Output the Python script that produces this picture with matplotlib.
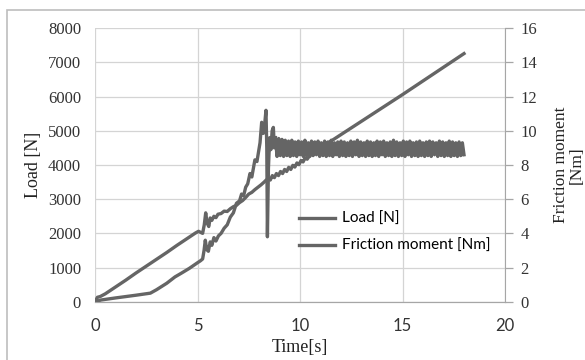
import matplotlib
matplotlib.use("Agg")
import matplotlib.pyplot as plt
from matplotlib.patches import Rectangle

# ---------------------------------------------------------------------
# Data
# ---------------------------------------------------------------------
load_t = [0, 0.12, 0.25, 0.5, 1.0, 1.5, 2.0, 2.5, 3.0, 3.5, 4.0, 4.5, 4.9,
          5.05, 5.15, 5.25, 5.33, 5.40, 5.47, 5.55, 5.62, 5.70, 5.80, 5.90,
          6.0, 6.15, 6.3, 6.45, 6.6, 6.75, 6.9, 7.05, 7.2, 7.35, 7.5, 7.65,
          7.8, 7.95, 8.1, 8.25, 8.35, 8.45, 8.55, 8.65, 8.75, 8.85, 8.95,
          9.05, 9.15, 9.25, 9.35, 9.45, 9.55, 9.65, 9.75, 9.85, 9.95, 10.05,
          10.15, 10.25, 10.35, 10.5, 10.7, 11.0, 15.0, 18.0]
load_n = [0, 130, 150, 230, 430, 630, 840, 1040, 1240, 1440, 1650, 1850, 2010,
          2060, 2030, 2000, 2250, 2600, 2300, 2200, 2450, 2380, 2500, 2460,
          2560, 2580, 2650, 2640, 2720, 2780, 2820, 2900, 2960, 3050, 3150, 3200,
          3280, 3350, 3420, 3500, 3560, 3600, 3560, 3690, 3630, 3750, 3690,
          3810, 3750, 3870, 3810, 3930, 3870, 3990, 3940, 4060, 4010, 4130,
          4090, 4210, 4170, 4300, 4380, 4500, 6060, 7260]

# friction moment, start-up and breakaway part
fric_t = [0, 0.3, 1.0, 2.0, 2.7, 3.0, 3.5, 3.9, 4.2, 4.6, 5.0, 5.15, 5.25,
          5.32, 5.38, 5.45, 5.53, 5.62, 5.70, 5.80, 5.90, 6.02, 6.15, 6.3,
          6.45, 6.6, 6.75, 6.9, 7.05, 7.15, 7.25, 7.35, 7.45, 7.56, 7.65, 7.8,
          7.9, 8.05, 8.13, 8.21, 8.27, 8.34, 8.38, 8.41, 8.46, 8.52, 8.58,
          8.64, 8.70, 8.75]
fric_nm = [0, 0.1, 0.22, 0.38, 0.5, 0.7, 1.08, 1.45, 1.66, 1.95, 2.28, 2.4, 2.5,
           3.0, 3.6, 3.05, 2.95, 3.5, 3.3, 3.75, 3.55, 3.85, 4.0, 4.3,
           4.5, 4.95, 5.2, 5.76, 5.9, 6.3, 6.2, 6.7, 6.9, 7.5, 7.3, 8.3,
           8.2, 9.3, 10.5, 9.85, 10.3, 11.2, 9.0, 3.8, 7.8, 9.6, 8.9,
           10.0, 10.2, 9.0]

# friction moment, steady oscillating part
osc_t = [8.80, 8.88, 8.96, 9.04, 9.12, 9.20, 9.28, 9.36, 9.44, 9.52,
         9.60, 9.68, 9.76, 9.84, 9.92, 10.00, 10.08, 10.16, 10.24, 10.32,
         10.40, 10.48, 10.56, 10.64, 10.72, 10.80, 10.88, 10.96, 11.04, 11.12,
         11.20, 11.28, 11.36, 11.44, 11.52, 11.60, 11.68, 11.76, 11.84, 11.92,
         12.00, 12.08, 12.16, 12.24, 12.32, 12.40, 12.48, 12.56, 12.64, 12.72,
         12.80, 12.88, 12.96, 13.04, 13.12, 13.20, 13.28, 13.36, 13.44, 13.52,
         13.60, 13.68, 13.76, 13.84, 13.92, 14.00, 14.08, 14.16, 14.24, 14.32,
         14.40, 14.48, 14.56, 14.64, 14.72, 14.80, 14.88, 14.96, 15.04, 15.12,
         15.20, 15.28, 15.36, 15.44, 15.52, 15.60, 15.68, 15.76, 15.84, 15.92,
         16.00, 16.08, 16.16, 16.24, 16.32, 16.40, 16.48, 16.56, 16.64, 16.72,
         16.80, 16.88, 16.96, 17.04, 17.12, 17.20, 17.28, 17.36, 17.44, 17.52,
         17.60, 17.68, 17.76, 17.84, 17.92, 18.00]
osc_nm = [9.60, 8.50, 9.55, 8.55, 9.50, 8.50, 9.45, 8.55, 9.40, 8.50,
          9.45, 8.55, 9.35, 8.50, 9.40, 8.60, 9.35, 8.50, 9.45, 8.55,
          9.30, 8.50, 9.40, 8.55, 9.35, 8.60, 9.40, 8.50, 9.30, 8.55,
          9.40, 8.50, 9.35, 8.55, 9.45, 8.50, 9.30, 8.60, 9.35, 8.50,
          9.40, 8.55, 9.35, 8.50, 9.30, 8.55, 9.40, 8.50, 9.35, 8.60,
          9.45, 8.50, 9.35, 8.55, 9.30, 8.50, 9.40, 8.55, 9.35, 8.50,
          9.30, 8.55, 9.40, 8.50, 9.35, 8.60, 9.40, 8.50, 9.30, 8.55,
          9.35, 8.50, 9.45, 8.55, 9.35, 8.50, 9.30, 8.55, 9.40, 8.50,
          9.35, 8.60, 9.40, 8.50, 9.30, 8.55, 9.35, 8.50, 9.40, 8.55,
          9.30, 8.50, 9.35, 8.55, 9.40, 8.50, 9.35, 8.60, 9.30, 8.50,
          9.40, 8.55, 9.35, 8.50, 9.30, 8.55, 9.40, 8.50, 9.35, 8.55,
          9.30, 8.50, 9.35, 8.55, 9.30, 8.60]

x_ticks = [0, 5, 10, 15, 20]
load_ticks = [0, 1000, 2000, 3000, 4000, 5000, 6000, 7000, 8000]
fric_ticks = [0, 2, 4, 6, 8, 10, 12, 14, 16]

LINE = "#656565"
GRID = "#d4d4d4"
SERIF = "Liberation Serif"
SANS = "Lato"

# ---------------------------------------------------------------------
# Figure
# ---------------------------------------------------------------------
fig = plt.figure(figsize=(5.85, 3.6), dpi=100)
fig.add_artist(Rectangle((7 / 585, -0.1), 1.2, 1 - 10 / 360 + 0.1,
                         transform=fig.transFigure, fill=False,
                         edgecolor="#bdbdbd", linewidth=1.2))

ax = fig.add_axes([95 / 585, 1 - 301.7 / 360, 410 / 585, 273.4 / 360])
ax2 = ax.twinx()

l1, = ax.plot(load_t, load_n, color=LINE, lw=2.4, label="Load [N]")
ax2.plot(fric_t + osc_t[:1], fric_nm + osc_nm[:1], color=LINE, lw=2.4)
l2, = ax2.plot(osc_t, osc_nm, color=LINE, lw=2.4, label="Friction moment [Nm]")

ax.set_xlim(0, 20)
ax.set_ylim(0, 8000)
ax2.set_ylim(0, 16)
ax.set_xticks(x_ticks)
ax.set_yticks(load_ticks)
ax2.set_yticks(fric_ticks)

ax.grid(True, color=GRID, linewidth=0.9)
ax.set_axisbelow(True)
for a in (ax, ax2):
    for side in ("top", "left"):
        a.spines[side].set_visible(False)
    a.spines["right"].set_color("#a6a6a6")
    a.spines["bottom"].set_color("#a6a6a6")
ax.spines["right"].set_visible(False)

ax.tick_params(axis="x", length=0, pad=12, labelsize=12, colors="#333333")
ax.tick_params(axis="y", length=0, pad=10, labelsize=12, colors="#333333")
ax2.tick_params(axis="y", length=6, width=0.9, color="#a6a6a6", pad=5,
                labelsize=12, colors="#333333")
for lab in ax.get_xticklabels():
    lab.set_fontfamily(SANS)
for lab in ax.get_yticklabels() + ax2.get_yticklabels():
    lab.set_fontfamily(SERIF)

ax.set_xlabel("Time[s]", fontfamily=SERIF, fontsize=13, labelpad=3, color="#222222")
ax.set_ylabel("Load [N]", fontfamily=SERIF, fontsize=13, labelpad=4, color="#222222")
# right axis title placed by hand so the second line stays inside the figure
fig.text(569 / 585, 1 - 165 / 360, "Friction moment\n[Nm]", rotation=90,
         ha="center", va="center", multialignment="center",
         fontfamily=SERIF, fontsize=12.5, linespacing=0.95, color="#222222")

ax.legend(handles=[l1, l2], loc="upper left", bbox_to_anchor=(0.497, 0.328),
          frameon=False, borderaxespad=0, borderpad=0,
          handlelength=2.4, handletextpad=0.4, labelspacing=0.85,
          prop={"family": SANS, "size": 11})

fig.savefig("out.png", dpi=100)
